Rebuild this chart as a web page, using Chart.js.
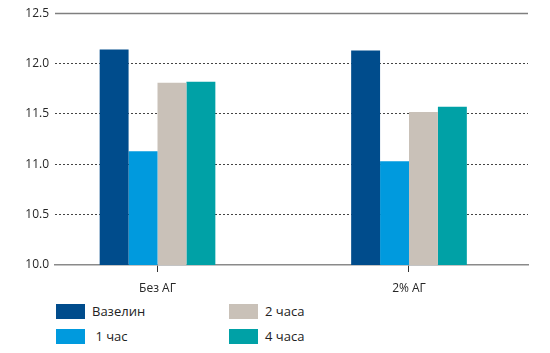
<!DOCTYPE html>
<html>
<head>
<meta charset="utf-8">
<script src="https://cdn.jsdelivr.net/npm/chart.js@4.4.0/dist/chart.umd.min.js"></script>
<style>
  body { margin: 0; background: #fff; font-family: "Open Sans", sans-serif; }
  #wrap { width: 550px; height: 300px; }
  #legend { position: relative; width: 550px; height: 53px; }
  .item { position: absolute; display: flex; align-items: center; font-size: 13px; color: #222; white-space: pre; }
  .box { width: 29px; height: 15px; margin-right: 7px; }
</style>
</head>
<body>
<div id="wrap"><canvas id="myChart" width="550" height="300"></canvas></div>
<div id="legend"></div>
<script>
const categories = ['Без АГ', '2% АГ'];
const seriesNames = ['Вазелин', ' 1 час', '2 часа', '4 часа'];
const vaselin = [12.14, 12.13];
const hour1 = [11.13, 11.03];
const hour2 = [11.81, 11.52];
const hour4 = [11.82, 11.57];
const yTicks = [10.0, 10.5, 11.0, 11.5, 12.0, 12.5];

const colors = ['#004C8C', '#009ADE', '#C9C1B8', '#00A1A6'];
const allSeries = [vaselin, hour1, hour2, hour4];

// top solid line at 12.5
const topLine = {
  id: 'topLine',
  beforeDatasetsDraw(chart) {
    const y = chart.scales.y;
    const area = chart.chartArea;
    const py = Math.round(y.getPixelForValue(y.max)) + 0.5;
    const ctx = chart.ctx;
    ctx.save();
    ctx.strokeStyle = '#7f7f7f';
    ctx.lineWidth = 1.5;
    ctx.beginPath();
    ctx.moveTo(area.left, py);
    ctx.lineTo(area.right, py);
    ctx.stroke();
    ctx.restore();
  }
};

const ctx = document.getElementById('myChart');
new Chart(ctx, {
  type: 'bar',
  data: {
    datasets: allSeries.map((vals, i) => ({
      label: seriesNames[i],
      data: vals.map((v, k) => ({ x: k, y: v })),
      backgroundColor: colors[i],
      borderWidth: 0,
      barPercentage: 1,
      categoryPercentage: 0.46
    }))
  },
  options: {
    responsive: false,
    animation: false,
    layout: { padding: { top: 10, left: 0, right: 22, bottom: 0 } },
    plugins: { legend: { display: false }, tooltip: { enabled: false } },
    scales: {
      x: {
        type: 'linear',
        offset: false,
        min: -0.4076, max: 1.4732,
        afterBuildTicks: s => { s.ticks = categories.map((c, i) => ({ value: i })); },
        afterFit: s => { s.height = 35; },
        ticks: {
          callback: v => categories[v],
          color: '#262626',
          font: { family: 'Open Sans', size: 12 },
          padding: 9,
          maxRotation: 0
        },
        grid: { drawOnChartArea: false, tickLength: 7, color: '#333', offset: false },
        border: { color: '#8a8a8a', width: 1.5 }
      },
      y: {
        min: 10, max: 12.5,
        afterBuildTicks: s => { s.ticks = yTicks.map(v => ({ value: v })); },
        afterFit: s => { s.width = 55; },
        ticks: {
          callback: v => v.toFixed(1),
          color: '#262626',
          font: { family: 'Open Sans', size: 12 },
          padding: 6
        },
        grid: {
          drawTicks: false,
          color: c => (c.tick && (c.tick.value === 12.5 || c.tick.value === 10)) ? 'rgba(0,0,0,0)' : '#444'
        },
        border: { display: false, dash: [2, 2] }
      }
    }
  },
  plugins: [topLine]
});

// html legend, two columns
const legend = document.getElementById('legend');
const colX = [56, 229];
const rowY = [2, 27];
seriesNames.forEach((name, i) => {
  const item = document.createElement('div');
  item.className = 'item';
  item.style.left = colX[Math.floor(i / 2)] + 'px';
  item.style.top = rowY[i % 2] + 'px';
  const box = document.createElement('span');
  box.className = 'box';
  box.style.background = colors[i];
  const txt = document.createElement('span');
  txt.textContent = name;
  item.appendChild(box);
  item.appendChild(txt);
  legend.appendChild(item);
});
</script>
</body>
</html>
